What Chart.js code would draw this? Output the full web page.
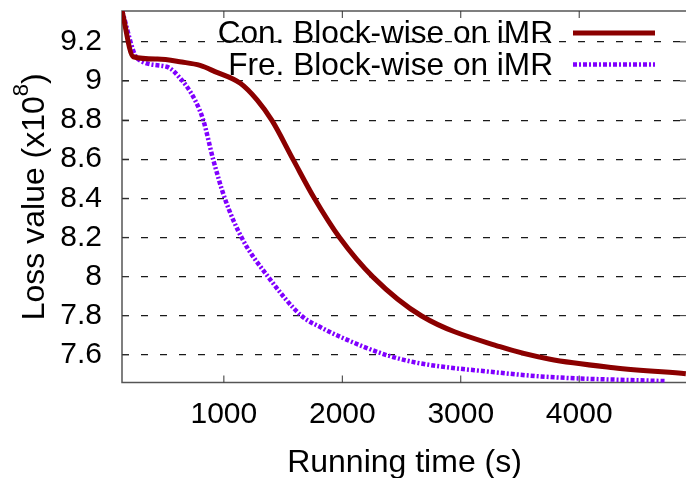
<!DOCTYPE html>
<html>
<head>
<meta charset="utf-8">
<script src="https://cdn.jsdelivr.net/npm/chart.js@4.4.0/dist/chart.umd.min.js"></script>
<style>
  html, body { margin: 0; padding: 0; background: #fff; overflow: hidden; }
  canvas { display: block; }
</style>
</head>
<body>
<canvas id="lossChart" width="688" height="478"></canvas>
<script>
const seriesNames = ["Con. Block-wise on iMR", "Fre. Block-wise on iMR"];
const conTime = [140, 235, 440, 644, 799, 925, 1139, 1280, 1407, 1584, 1764, 1978, 2260, 2670, 3331, 3744, 4290, 4900];
const conLoss = [9.36, 9.124, 9.112, 9.097, 9.08, 9.048, 8.988, 8.903, 8.797, 8.599, 8.4, 8.198, 7.997, 7.798, 7.641, 7.578, 7.534, 7.503];
const freTime = [140, 270, 517, 630, 756, 826, 911, 1010, 1151, 1376, 1657, 1828, 1981, 2375, 2656, 3247, 3726, 4725];
const freLoss = [9.36, 9.115, 9.073, 9.015, 8.903, 8.8, 8.596, 8.396, 8.198, 7.997, 7.798, 7.737, 7.692, 7.598, 7.556, 7.513, 7.487, 7.465];
const xTickValues = [1000, 2000, 3000, 4000];
const xTickLabels = ["1000", "2000", "3000", "4000"];
const yTickValues = [7.6, 7.8, 8, 8.2, 8.4, 8.6, 8.8, 9, 9.2];
const yTickLabels = ["7.6", "7.8", "8", "8.2", "8.4", "8.6", "8.8", "9", "9.2"];
const xTitle = "Running time (s)";
const yTitle = "Loss value (x10";
const yTitleExp = "8";

const FONT = '"Liberation Sans", Arial, Helvetica, sans-serif';
Chart.defaults.font.family = FONT;
Chart.defaults.font.size = 30;
Chart.defaults.color = "#000";

const toPoints = (xs, ys) => xs.map((x, i) => ({ x: x, y: ys[i] }));

// frame + inward tick marks, gnuplot style
const framePlugin = {
  id: "frame",
  beforeDatasetsDraw(chart) {
    const { ctx, chartArea: a, scales } = chart;
    const line = (x1, y1, x2, y2) => { ctx.beginPath(); ctx.moveTo(x1, y1); ctx.lineTo(x2, y2); ctx.stroke(); };
    ctx.save();
    ctx.strokeStyle = "#555";
    ctx.lineWidth = 1.5;
    ctx.strokeRect(a.left, a.top, a.right - a.left, a.bottom - a.top);
    ctx.strokeStyle = "#333";
    ctx.lineWidth = 1;
    xTickValues.forEach(v => {
      const px = scales.x.getPixelForValue(v);
      line(px, a.bottom, px, a.bottom - 7);
      line(px, a.top, px, a.top + 7);
    });
    yTickValues.forEach(v => {
      const py = scales.y.getPixelForValue(v);
      line(a.left, py, a.left + 7, py);
      line(a.right, py, a.right - 7, py);
    });
    ctx.restore();
  }
};

// key in the top right corner: text first, sample line after it
const keyPlugin = {
  id: "key",
  afterDatasetsDraw(chart) {
    const ctx = chart.ctx;
    ctx.save();
    chart.data.datasets.forEach((ds, i) => {
      const cy = 33 + i * 31.5;
      ctx.font = "31.6px " + FONT;
      ctx.fillStyle = "#000";
      ctx.textAlign = "right";
      ctx.textBaseline = "middle";
      ctx.fillText(ds.label, 553, cy + 1.5);
      ctx.strokeStyle = ds.borderColor;
      ctx.lineWidth = ds.borderWidth;
      ctx.setLineDash(ds.borderDash || []);
      ctx.beginPath();
      ctx.moveTo(573, cy);
      ctx.lineTo(655, cy);
      ctx.stroke();
    });
    ctx.restore();
  }
};

// rotated y title with a superscript exponent
const yTitlePlugin = {
  id: "yTitle",
  afterDraw(chart) {
    const ctx = chart.ctx;
    const a = chart.chartArea;
    ctx.save();
    ctx.translate(43.5, (a.top + a.bottom) / 2);
    ctx.rotate(-Math.PI / 2);
    ctx.fillStyle = "#000";
    ctx.textBaseline = "alphabetic";
    ctx.textAlign = "left";
    ctx.font = "32px " + FONT;
    const w1 = ctx.measureText(yTitle).width;
    const w3 = ctx.measureText(")").width;
    ctx.font = "22px " + FONT;
    const w2 = ctx.measureText(yTitleExp).width;
    let start = -(w1 + w2 + w3) / 2;
    ctx.font = "32px " + FONT;
    ctx.fillText(yTitle, start, 0);
    ctx.font = "22px " + FONT;
    ctx.fillText(yTitleExp, start + w1, -16);
    ctx.font = "32px " + FONT;
    ctx.fillText(")", start + w1 + w2, 0);
    ctx.restore();
  }
};

new Chart(document.getElementById("lossChart"), {
  type: "line",
  data: {
    datasets: [{
      label: seriesNames[0],
      data: toPoints(conTime, conLoss),
      borderColor: "#8b0000",
      borderWidth: 5,
      pointRadius: 0,
      fill: false,
      cubicInterpolationMode: "monotone",
    }, {
      label: seriesNames[1],
      data: toPoints(freTime, freLoss),
      borderColor: "#8000ff",
      borderWidth: 4.5,
      borderDash: [4, 2, 2, 2],
      pointRadius: 0,
      fill: false,
      cubicInterpolationMode: "monotone",
    }]
  },
  options: {
    responsive: false,
    animation: false,
    devicePixelRatio: 1,
    layout: { padding: { top: 11, left: 0, right: 1, bottom: 0 } },
    plugins: { legend: { display: false }, tooltip: { enabled: false } },
    scales: {
      x: {
        type: "linear",
        min: 140,
        max: 4910,
        afterBuildTicks: s => { s.ticks = xTickValues.map(v => ({ value: v })); },
        afterFit: s => { s.height = 95.5; s.paddingLeft = 0; s.paddingRight = 0; },
        grid: { display: false, drawTicks: false },
        border: { display: false },
        ticks: { padding: 14, maxRotation: 0, callback: (v, i) => xTickLabels[i] },
        title: { display: true, text: xTitle, font: { size: 32 }, padding: { top: 0, bottom: -4 } }
      },
      y: {
        type: "linear",
        min: 7.458,
        max: 9.358,
        afterBuildTicks: s => { s.ticks = yTickValues.map(v => ({ value: v })); },
        afterFit: s => { s.width = 122; s.paddingTop = 0; s.paddingBottom = 0; },
        grid: { color: "#1a1a1a", lineWidth: 1.2, drawTicks: false },
        border: { display: false, dash: [7, 12] },
        ticks: { padding: 20, callback: (v, i) => yTickLabels[i] }
      }
    }
  },
  plugins: [framePlugin, keyPlugin, yTitlePlugin]
});
</script>
</body>
</html>
